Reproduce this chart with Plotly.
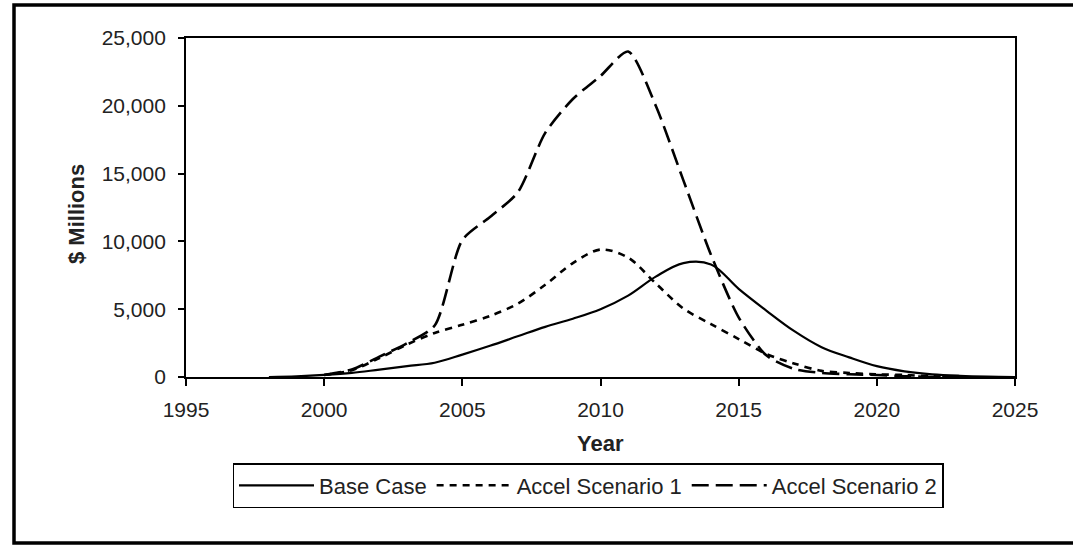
import plotly.graph_objects as go

# ---- data ----
base_years = [1998, 1999, 2000, 2001, 2002, 2003, 2004, 2005, 2006, 2007, 2008, 2009,
              2010, 2011, 2012, 2013, 2014, 2015, 2016, 2017, 2018, 2019, 2020, 2021,
              2022, 2023, 2024, 2025]
base_case = [0, 50, 150, 300, 550, 800, 1050, 1650, 2300, 3000, 3700, 4300,
             5000, 6000, 7400, 8400, 8300, 6500, 4900, 3400, 2200, 1450, 800, 420,
             200, 90, 30, 0]

accel_years = [2000, 2001, 2002, 2003, 2004, 2005, 2006, 2007, 2008, 2009, 2010, 2011,
               2012, 2013, 2014, 2015, 2016, 2017, 2018, 2019, 2020, 2021, 2022, 2023]
accel_1 = [150, 500, 1400, 2400, 3250, 3850, 4500, 5400, 6800, 8400, 9400, 8800,
           6900, 5050, 3900, 2800, 1700, 1000, 450, 300, 200, 150, 50, 0]
accel_2 = [150, 550, 1500, 2500, 3800, 10100, 11800, 13600, 18000, 20500, 22200, 24000,
           20000, 14500, 9000, 4400, 1600, 600, 300, 200, 150, 60, 0, 0]

x_ticks = [1995, 2000, 2005, 2010, 2015, 2020, 2025]
y_ticks = [0, 5000, 10000, 15000, 20000, 25000]

series_names = ["Base Case", "Accel Scenario 1", "Accel Scenario 2"]

FONT = "Liberation Sans, Arial, sans-serif"

fig = go.Figure()
fig.add_trace(go.Scatter(x=base_years, y=base_case, name=series_names[0], mode="lines",
                         line=dict(color="black", width=2.2, shape="spline", smoothing=1.0)))
fig.add_trace(go.Scatter(x=accel_years, y=accel_1, name=series_names[1], mode="lines",
                         line=dict(color="black", width=2.6, dash="7px,6px",
                                   shape="spline", smoothing=0.9)))
fig.add_trace(go.Scatter(x=accel_years, y=accel_2, name=series_names[2], mode="lines",
                         line=dict(color="black", width=2.6, dash="17px,7px",
                                   shape="spline", smoothing=0.7)))

# plot area geometry in pixels
L, R, T, B = 186, 1015, 38, 377
W, H = R - L, B - T

def px(x):
    return (x - L) / W

def py(y):
    return (B - y) / H

fig.update_layout(
    width=1073, height=546,
    margin=dict(l=L, r=1073 - R, t=T, b=546 - B),
    paper_bgcolor="white", plot_bgcolor="white",
    font=dict(family=FONT, size=21, color="#222"),
    showlegend=True,
    legend=dict(orientation="h", x=px(588), y=py(463), xanchor="center", yanchor="top",
                bordercolor="black", borderwidth=1.5, bgcolor="white",
                font=dict(family=FONT, size=22, color="#222"),
                itemwidth=75, tracegroupgap=0),
    xaxis=dict(range=[1995, 2025], tickvals=x_ticks, ticks="outside", ticklen=7,
               tickwidth=1.5, tickcolor="black", showline=True, linecolor="black",
               linewidth=1.8, mirror=True, showgrid=False, zeroline=False,
               ticklabelstandoff=6, tickfont=dict(size=21, color="#222")),
    yaxis=dict(range=[0, 25000], tickvals=y_ticks, tickformat=",d", ticks="outside",
               ticklen=6, tickwidth=1.5, tickcolor="black", showline=True,
               linecolor="black", linewidth=1.8, mirror=True, showgrid=False,
               zeroline=False, ticklabelstandoff=8, tickfont=dict(size=21, color="#222")),
    annotations=[
        dict(text="<b>$ Millions</b>", x=px(76), y=py(214), xref="paper", yref="paper",
             xanchor="center", yanchor="middle",
             textangle=-90, showarrow=False, font=dict(size=22, color="#222", family=FONT)),
        dict(text="<b>Year</b>", x=px(600), y=py(443), xref="paper", yref="paper",
             xanchor="center", yanchor="middle",
             showarrow=False, font=dict(size=22, color="#222", family=FONT)),
    ],
    shapes=[
        dict(type="rect", xref="paper", yref="paper", x0=px(14), x1=px(1085),
             y0=py(543), y1=py(5), line=dict(color="black", width=3.5)),
    ],
)

fig.write_html("out.html", config={"displayModeBar": False},
               post_script="document.body.style.margin='0px';")
